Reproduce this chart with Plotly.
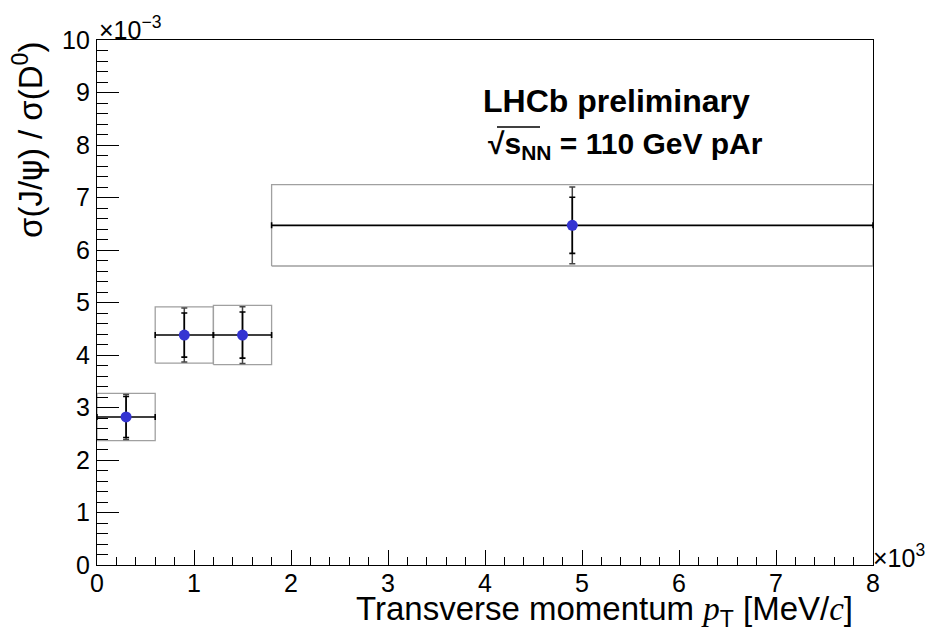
import plotly.graph_objects as go

# ---- data (pT in MeV/c, ratio sigma(J/psi)/sigma(D0)) ----
pt_center = [300, 900, 1500, 4900]
pt_low = [0, 600, 1200, 1800]
pt_high = [600, 1200, 1800, 8000]
ratio = [2.82e-3, 4.38e-3, 4.38e-3, 6.47e-3]
stat_err = [0.39e-3, 0.42e-3, 0.44e-3, 0.535e-3]
tot_err = [0.43e-3, 0.515e-3, 0.54e-3, 0.73e-3]
syst_box = [0.45e-3, 0.535e-3, 0.565e-3, 0.775e-3]

x_tick_vals = [0, 1000, 2000, 3000, 4000, 5000, 6000, 7000, 8000]
x_tick_text = ["0", "1", "2", "3", "4", "5", "6", "7", "8"]
y_tick_vals = [i * 1e-3 for i in range(11)]
y_tick_text = [str(i) for i in range(11)]

FONT = "Liberation Sans, Arial, Helvetica, sans-serif"
SERIF = "Liberation Serif, Times New Roman, serif"

# box outlines built from the data
bx, by = [], []
for lo, hi, c, s in zip(pt_low, pt_high, ratio, syst_box):
    bx += [lo, hi, hi, lo, lo, None]
    by += [c - s, c - s, c + s, c + s, c - s, None]

fig = go.Figure()
fig.add_trace(go.Scatter(x=bx, y=by, mode="lines",
                         line=dict(color="#a0a0a0", width=1.3),
                         hoverinfo="skip", showlegend=False))
# total errors (outer caps) + horizontal bin-width bars
fig.add_trace(go.Scatter(
    x=pt_center, y=ratio, mode="markers",
    marker=dict(size=1, color="rgba(0,0,0,0)"),
    error_y=dict(type="data", array=tot_err, color="#444444", thickness=1.5, width=3),
    error_x=dict(type="data",
                 array=[h - c for h, c in zip(pt_high, pt_center)],
                 arrayminus=[c - l for c, l in zip(pt_center, pt_low)],
                 color="black", thickness=1.6, width=3),
    showlegend=False))
# statistical errors (inner caps) + points
fig.add_trace(go.Scatter(
    x=pt_center, y=ratio, mode="markers",
    marker=dict(size=11, color="#3434d2"),
    error_y=dict(type="data", array=stat_err, color="black", thickness=1.6, width=3),
    showlegend=False))

fig.update_layout(
    width=933, height=631,
    margin=dict(l=97, r=60, t=40, b=66),
    paper_bgcolor="white", plot_bgcolor="white",
    font=dict(family=FONT, color="black", size=25),
    xaxis=dict(range=[0, 8000], tickmode="array", tickvals=x_tick_vals, ticktext=x_tick_text,
               ticks="inside", ticklen=15, tickwidth=1, tickcolor="black",
               minor=dict(ticks="inside", ticklen=8, dtick=200, tickcolor="black", tickwidth=1),
               showline=True, linecolor="black", linewidth=1.2, mirror=True,
               showgrid=False, zeroline=False, tickfont=dict(size=25), ticklabelstandoff=-4),
    yaxis=dict(range=[0, 0.01], tickmode="array", tickvals=y_tick_vals, ticktext=y_tick_text,
               ticks="inside", ticklen=22, tickwidth=1, tickcolor="black",
               minor=dict(ticks="inside", ticklen=11, dtick=0.0002, tickcolor="black", tickwidth=1),
               showline=True, linecolor="black", linewidth=1.2, mirror=True,
               showgrid=False, zeroline=False, tickfont=dict(size=25), ticklabelstandoff=1),
)

# pixel positions -> paper fractions (for text placement)
def px(xp):
    return (xp - 97) / 776.0

def py(yp):
    return (565 - yp) / 525.0

ann = [
    dict(text="×10<sup>−3</sup>", xref="paper", yref="paper", x=0, y=1,
         xanchor="left", yanchor="bottom", showarrow=False, font=dict(size=25), yshift=-6),
    dict(text="×10<sup>3</sup>", xref="paper", yref="paper", x=1, y=0,
         xanchor="left", yanchor="bottom", showarrow=False, font=dict(size=25), xshift=-2, yshift=-9),
    dict(text="Transverse momentum <span style='font-family:" + SERIF + "'><i>p</i></span><sub>T</sub> [MeV/<span style='font-family:" + SERIF + "'><i>c</i></span>]",
         xref="paper", yref="paper", x=1, y=0, xanchor="right", yanchor="top",
         showarrow=False, font=dict(size=33), xshift=-18, yshift=-23),
    dict(text="σ(J/<span style='font-family:DejaVu Sans'>ψ</span>) / σ(D<sup>0</sup>)", xref="paper", yref="paper", x=-0.089, y=1,
         xanchor="center", yanchor="top", textangle=-90, showarrow=False, font=dict(size=33)),
    dict(text="<b>LHCb preliminary</b>", xref="paper", yref="paper", x=px(616), y=1,
         xanchor="center", yanchor="middle", showarrow=False, font=dict(size=32), yshift=-61),
    dict(text="<b>√s<sub>NN</sub> = 110 GeV pAr</b>", xref="paper", yref="paper", x=px(625), y=1,
         xanchor="center", yanchor="middle", showarrow=False, font=dict(size=30), yshift=-105),
]
fig.update_layout(annotations=ann)
# overline of the square-root sign
fig.add_shape(type="line", xref="paper", yref="paper",
              x0=px(497), x1=px(540), y0=py(127), y1=py(127),
              line=dict(color="black", width=1.3))

fig.write_html("out.html")
